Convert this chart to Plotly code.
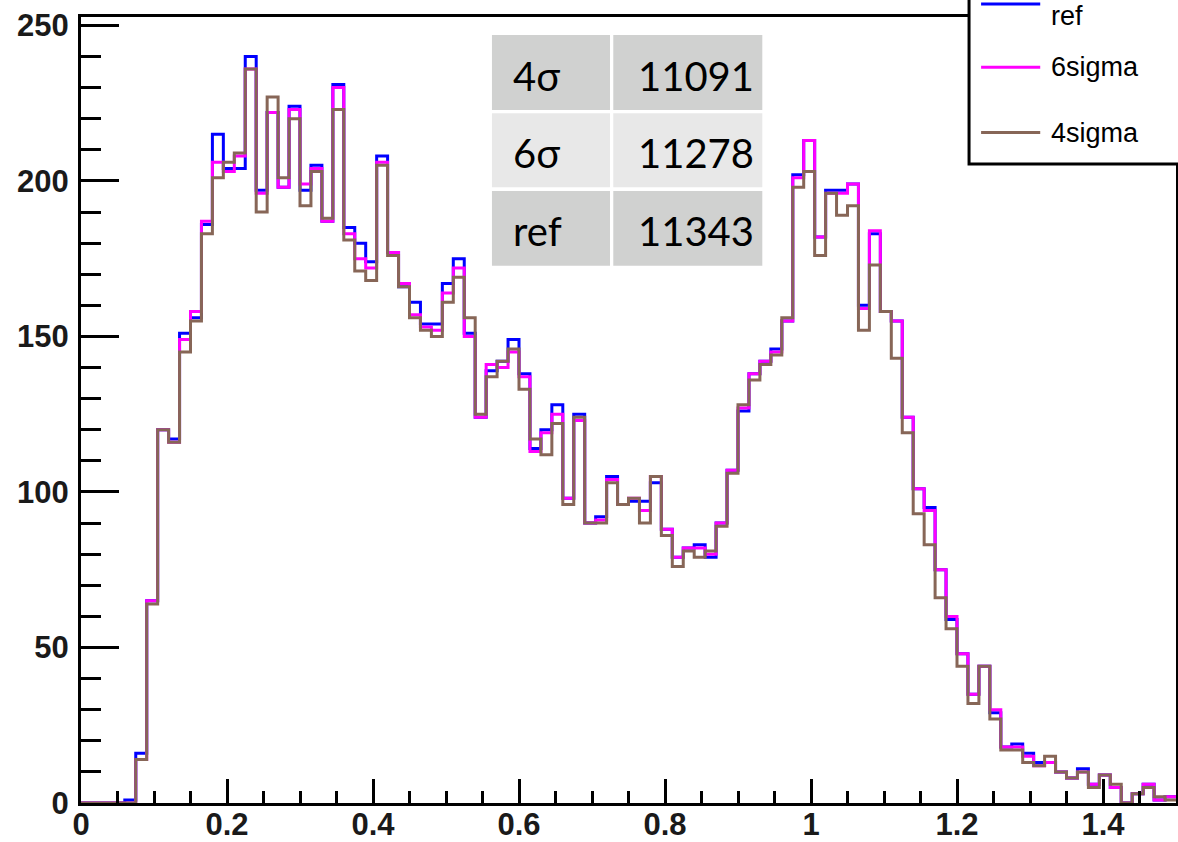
import numpy as np
import plotly.graph_objects as go

# ---------------- data ----------------
x_min, x_max, n_bins = 0.0, 1.5, 100

ref_counts = [0, 0, 0, 0, 1, 16, 65, 120, 117, 151,
              156, 186, 215, 204, 204, 240, 197, 222, 198, 224,
              197, 205, 187, 231, 185, 180, 174, 208, 177, 166,
              161, 154, 154, 167, 175, 151, 124, 139, 142, 149,
              138, 114, 120, 128, 98, 125, 90, 92, 105, 96,
              97, 97, 103, 88, 79, 82, 83, 79, 90, 107,
              126, 138, 142, 146, 155, 202, 213, 182, 197, 197,
              199, 160, 183, 158, 155, 124, 101, 95, 75, 59,
              48, 35, 44, 29, 18, 19, 16, 13, 13, 10,
              8, 11, 6, 9, 5, 0, 3, 6, 1, 2]

six_sigma_counts = [0, 0, 0, 0, 0, 14, 65, 120, 116, 149,
                    158, 187, 206, 203, 208, 236, 196, 222, 198, 223,
                    199, 204, 187, 230, 183, 175, 172, 206, 177, 167,
                    157, 153, 152, 164, 172, 150, 124, 141, 140, 145,
                    137, 113, 119, 125, 98, 123, 90, 91, 104, 96,
                    98, 94, 105, 88, 79, 82, 82, 80, 90, 107,
                    127, 138, 142, 145, 155, 201, 213, 182, 196, 196,
                    199, 159, 184, 158, 155, 124, 101, 94, 75, 60,
                    48, 35, 44, 30, 18, 18, 15, 12, 13, 10,
                    8, 10, 6, 9, 5, 0, 3, 6, 1, 2]

four_sigma_counts = [0, 0, 0, 0, 0, 14, 64, 120, 116, 145,
                     155, 183, 201, 206, 209, 236, 190, 227, 201, 220,
                     192, 203, 188, 223, 181, 171, 168, 205, 176, 166,
                     156, 152, 150, 161, 169, 156, 125, 137, 142, 146,
                     133, 117, 112, 122, 96, 124, 90, 90, 103, 96,
                     98, 90, 105, 86, 76, 81, 79, 81, 89, 106,
                     128, 136, 141, 144, 156, 198, 203, 176, 196, 189,
                     192, 152, 173, 158, 143, 119, 93, 83, 66, 56,
                     44, 32, 44, 27, 17, 17, 13, 12, 15, 10,
                     8, 10, 5, 9, 6, 0, 3, 5, 2, 1]

series_names = ["ref", "6sigma", "4sigma"]
series_colors = ["#0000ff", "#ff00ff", "#876657"]

table_labels = ["4σ", "6σ", "ref"]
table_counts = ["11091", "11278", "11343"]

x_ticks = [0, 0.2, 0.4, 0.6, 0.8, 1.0, 1.2, 1.4]
x_tick_text = ["0", "0.2", "0.4", "0.6", "0.8", "1", "1.2", "1.4"]
y_ticks = [0, 50, 100, 150, 200, 250]

# ---------------- figure ----------------
edges = np.linspace(x_min, x_max, n_bins + 1)

fig = go.Figure()
for name, counts, color in zip(series_names,
                               [ref_counts, six_sigma_counts, four_sigma_counts],
                               series_colors):
    fig.add_trace(go.Scatter(
        x=edges,
        y=list(counts) + [counts[-1]],
        mode="lines",
        line=dict(color=color, width=3, shape="hv"),
        name=name,
        showlegend=False,
        hoverinfo="skip",
    ))

tick_font = dict(family="Liberation Sans", size=31, color="#1a1a1a", weight="bold")

fig.update_xaxes(
    range=[x_min, x_max],
    tickvals=x_ticks,
    ticktext=x_tick_text,
    ticks="inside", ticklen=24, tickwidth=3, tickcolor="black",
    minor=dict(dtick=0.05, tick0=0, ticks="inside", ticklen=12,
               tickwidth=3, tickcolor="black"),
    showline=True, linewidth=3, linecolor="black", mirror=True,
    showgrid=False, zeroline=False,
    tickfont=tick_font,
    automargin=False,
    ticklabelstandoff=-8,
)
fig.update_yaxes(
    range=[0, 252.7],
    tickvals=y_ticks,
    ticks="inside", ticklen=38, tickwidth=3, tickcolor="black",
    minor=dict(dtick=10, tick0=0, ticks="inside", ticklen=20,
               tickwidth=3, tickcolor="black"),
    showline=True, linewidth=3, linecolor="black", mirror=True,
    showgrid=False, zeroline=False,
    tickfont=tick_font,
    automargin=False,
    ticklabelstandoff=3,
)

shapes = []
annotations = []

# ---- table (top centre) ----
col_x = [(0.3753, 0.4831), (0.4861, 0.6222)]
row_y = [(0.8817, 0.9771), (0.7833, 0.8775), (0.6836, 0.7786)]
row_fill = ["#d0d1d0", "#e8e8e8", "#d0d1d0"]
text_y = [0.9249, 0.8270, 0.7277]
text_x = [0.3927, 0.5073]
for r in range(3):
    for c in range(2):
        shapes.append(dict(type="rect", xref="paper", yref="paper",
                           x0=col_x[c][0], x1=col_x[c][1],
                           y0=row_y[r][0], y1=row_y[r][1],
                           fillcolor=row_fill[r], line=dict(width=0),
                           layer="above"))
    annotations.append(dict(xref="paper", yref="paper", x=text_x[0], y=text_y[r],
                            text=table_labels[r], showarrow=False,
                            xanchor="left", yanchor="middle",
                            font=dict(family="Lato", size=40, color="black")))
    annotations.append(dict(xref="paper", yref="paper", x=text_x[1], y=text_y[r],
                            text=table_counts[r], showarrow=False,
                            xanchor="left", yanchor="middle",
                            font=dict(family="Lato", size=40, color="black")))

# ---- legend box (top right, partly cut off by the page edge) ----
shapes.append(dict(type="rect", xref="paper", yref="paper",
                   x0=0.811, x1=1.1, y0=0.813, y1=1.2,
                   fillcolor="white", line=dict(color="black", width=3),
                   layer="above"))
legend_line_y = [1.0165, 0.936, 0.853]
legend_text_y = [1.0013, 0.936, 0.853]
for name, color, ly, ty in zip(series_names, series_colors, legend_line_y, legend_text_y):
    shapes.append(dict(type="line", xref="paper", yref="paper",
                       x0=0.822, x1=0.876, y0=ly, y1=ly,
                       line=dict(color=color, width=3), layer="above"))
    annotations.append(dict(xref="paper", yref="paper", x=0.884, y=ty,
                            text=name, showarrow=False,
                            xanchor="left", yanchor="middle",
                            font=dict(family="Liberation Sans", size=27, color="black")))

fig.update_layout(
    width=1178, height=842,
    margin=dict(l=81, r=2, t=17, b=39, autoexpand=False),
    paper_bgcolor="white", plot_bgcolor="white",
    shapes=shapes, annotations=annotations,
    showlegend=False,
)

fig.write_html(
    "out.html",
    config={"displayModeBar": False},
    post_script="document.body.style.margin='0';document.body.style.overflow='hidden';",
)
